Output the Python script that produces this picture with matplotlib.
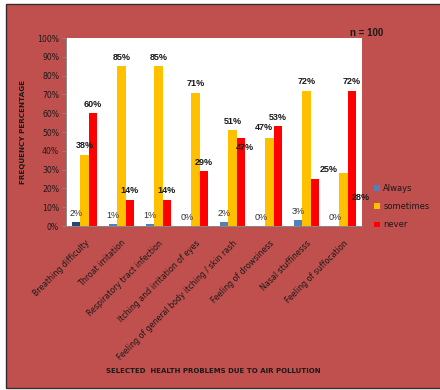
import matplotlib
matplotlib.use("Agg")
import matplotlib.pyplot as plt
from matplotlib.patches import Rectangle, Patch
import numpy as np

categories = ["Breathing difficulty", "Throat irritation", "Respiratory tract infection",
              "Itching and irritation of eyes", "Feeling of general body itching / skin rash",
              "Feeling of drowsiness", "Nasal stuffinesss", "Feeling of suffocation"]
always = [2, 1, 1, 0, 2, 0, 3, 0]
sometimes = [38, 85, 85, 71, 51, 47, 72, 28]
never = [60, 14, 14, 29, 47, 53, 25, 72]
series_names = ["Always", "sometimes", "never"]
yticks = [0, 10, 20, 30, 40, 50, 60, 70, 80, 90, 100]

BG = "#C0504D"
colors = ["#4F81BD", "#FFC000", "#FF0000"]
TXT = "#1a1a1a"

fig = plt.figure(figsize=(4.4, 3.9), dpi=100)
fig.patch.set_facecolor("white")
fig.patches.append(Rectangle((6 / 440, 2 / 390), 1.0, 1 - 6 / 390, transform=fig.transFigure,
                             facecolor=BG, edgecolor="#3a2a2a", linewidth=1.0, zorder=-10))

ax = fig.add_axes([66 / 440, 1 - 226 / 390, 296 / 440, 188 / 390])
ax.set_facecolor("white")

x = np.arange(len(categories))
w = 0.225
always_colors = ["#1F497D"] + [colors[0]] * (len(always) - 1)
b1 = ax.bar(x - w, always, w, color=always_colors, zorder=3)
b2 = ax.bar(x, sometimes, w, color=colors[1], zorder=3)
b3 = ax.bar(x + w, never, w, color=colors[2], zorder=3)

ax.set_xlim(-0.5, len(categories) - 0.5)
ax.set_ylim(0, 100)
ax.set_yticks(yticks)
ax.set_yticklabels([f"{t}%" for t in yticks], fontsize=5.6, color=TXT, family="DejaVu Sans")
ax.tick_params(axis="y", length=3, width=0.6, color="#888888", pad=2)
ax.set_xticks(x)
ax.set_xticklabels(categories, rotation=45, ha="right", va="top", rotation_mode="anchor",
                   fontsize=5.7, color=TXT, family="DejaVu Sans")
ax.tick_params(axis="x", length=0, pad=9)
for s in ["top", "right"]:
    ax.spines[s].set_visible(False)
for s in ["left", "bottom"]:
    ax.spines[s].set_color("#888888")
    ax.spines[s].set_linewidth(0.7)

# data labels (offsets in pixels)
default = (0, 9)
off_some = {5: (-6, 10), 7: (17, -24)}
off_never = {4: (4, -10), 6: (14, 10)}
for i in range(len(categories)):
    ax.annotate(f"{always[i]}%", (x[i] - w, always[i]), xytext=default, textcoords="offset pixels",
                ha="center", va="center", fontsize=6.5, color="#333333", family="Liberation Sans", zorder=5)
    ax.annotate(f"{sometimes[i]}%", (x[i], sometimes[i]), xytext=off_some.get(i, default),
                textcoords="offset pixels", ha="center", va="center", fontsize=6.5, fontweight="bold",
                color=TXT, family="Liberation Sans", zorder=5)
    ax.annotate(f"{never[i]}%", (x[i] + w, never[i]), xytext=off_never.get(i, default),
                textcoords="offset pixels", ha="center", va="center", fontsize=6.5, fontweight="bold",
                color=TXT, family="Liberation Sans", zorder=5)

ax.set_ylabel("FREQUENCY PERCENTAGE", fontsize=5.2, fontweight="bold", color=TXT)
ax.yaxis.set_label_coords(-0.135, 0.5)

fig.text(213 / 440, 1 - 371 / 390, "SELECTED  HEALTH PROBLEMS DUE TO AIR POLLUTION",
         ha="center", va="center", fontsize=5.0, fontweight="bold", color=TXT)
fig.text(367 / 440, 1 - 33 / 390, "n = 100", ha="center", va="center", fontsize=7,
         fontweight="bold", color=TXT, family="Liberation Sans")

handles = [Patch(facecolor=c, edgecolor="none") for c in colors]
fig.legend(handles, series_names, loc="upper left", bbox_to_anchor=(374 / 440, 1 - 184 / 390),
           frameon=False, fontsize=6, labelspacing=1.1, handlelength=0.7, handleheight=0.7,
           handletextpad=0.4, borderaxespad=0, borderpad=0, labelcolor=TXT)

fig.savefig("out.png", dpi=100, facecolor=fig.get_facecolor())
